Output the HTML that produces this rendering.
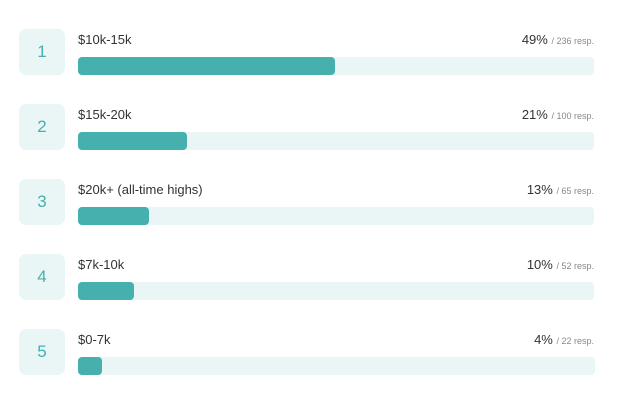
<!DOCTYPE html><html><head><style>
body{margin:0;width:631px;height:409px;background:#fff;font-family:"Liberation Sans",sans-serif;position:relative;overflow:hidden}
.box{position:absolute;left:19px;width:46px;height:46px;border-radius:7px;background:#eaf6f6;color:#45b0ae;font-size:17px;text-align:center;line-height:46px}
.lab{position:absolute;left:78px;font-size:13px;color:#333}
.pct{position:absolute;right:37px;font-size:13px;color:#333;white-space:nowrap}
.pct small{font-size:9px;color:#888}
.trk{position:absolute;left:78px;width:516px;height:18px;border-radius:4px;background:#eaf6f6}
.fill{height:18px;border-radius:4px;background:#45b0ae}
</style></head><body>
<div class="box" style="top:29px">1</div><div class="lab" style="top:32px">$10k-15k</div><div class="pct" style="top:32px">49% <small>/ 236 resp.</small></div><div class="trk" style="top:57px"><div class="fill" style="width:257px"></div></div>
<div class="box" style="top:104px">2</div><div class="lab" style="top:107px">$15k-20k</div><div class="pct" style="top:107px">21% <small>/ 100 resp.</small></div><div class="trk" style="top:132px"><div class="fill" style="width:109px"></div></div>
<div class="box" style="top:179px">3</div><div class="lab" style="top:182px">$20k+ (all-time highs)</div><div class="pct" style="top:182px">13% <small>/ 65 resp.</small></div><div class="trk" style="top:207px"><div class="fill" style="width:71px"></div></div>
<div class="box" style="top:254px">4</div><div class="lab" style="top:257px">$7k-10k</div><div class="pct" style="top:257px">10% <small>/ 52 resp.</small></div><div class="trk" style="top:282px"><div class="fill" style="width:56px"></div></div>
<div class="box" style="top:329px">5</div><div class="lab" style="top:332px">$0-7k</div><div class="pct" style="top:332px">4% <small>/ 22 resp.</small></div><div class="trk" style="top:357px;width:517px"><div class="fill" style="width:24px"></div></div>
</body></html>
